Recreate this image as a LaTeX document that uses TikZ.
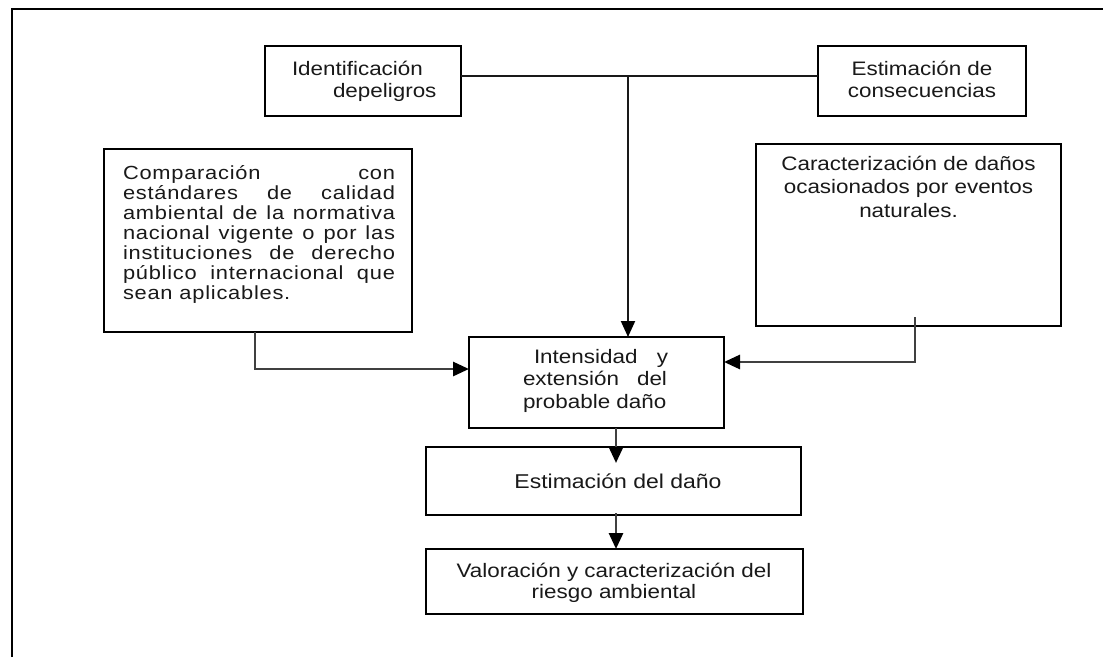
\documentclass[tikz,border=0pt]{standalone}
\usepackage{fontspec}
\setmainfont{Liberation Sans}[FakeStretch=1.15]
\newfontfamily\spacedfont{Liberation Sans}[FakeStretch=1.15,LetterSpace=4]
\usetikzlibrary{arrows.meta}
\newcommand\setfz[2]{\fontsize{#1}{#2}\selectfont}
\begin{document}
\begin{tikzpicture}[x=1pt,y=-1pt,
  box/.style={draw=black, line width=2pt, inner sep=0pt, outer sep=0pt},
  txt/.style={inner sep=0pt, outer sep=0pt, text=black!90},
  conn/.style={draw=black!75, line width=2.8pt},
  thinconn/.style={draw=black!90, line width=2pt},
  arr/.style={-{Triangle[length=16pt,width=14pt,color=black]}}
]
\useasboundingbox (0,0) rectangle (1103,657);
\fill[white] (0,0) rectangle (1103,657);
% outer frame (only top and left visible)
\draw[line width=2pt] (11.5,657) -- (11.5,8.5) -- (1103,8.5);

% boxes
\node[box, minimum width=196pt, minimum height=70pt] (ident) at (363,81) {};
\node[box, minimum width=208pt, minimum height=70pt] (estcons) at (922,81) {};
\node[box, minimum width=308pt, minimum height=183pt] (comp) at (258,240.5) {};
\node[box, minimum width=305pt, minimum height=182pt] (carac) at (908.5,235) {};
\node[box, minimum width=255pt, minimum height=91pt] (inten) at (596.5,382.5) {};
\node[box, minimum width=375pt, minimum height=68pt] (estdano) at (613.5,481) {};
\node[box, minimum width=377pt, minimum height=65pt] (valor) at (614.5,581.5) {};

% texts (base anchor = baseline of the last line)
\node[txt, anchor=base west, align=left, font=\setfz{19.5}{22}] (identt) at (292,97)
  {Identificación\\\hspace*{41pt}depeligros};
\node[txt, anchor=base, align=center, font=\setfz{19.5}{22}] (estconst) at (922,97)
  {Estimación de\\consecuencias};
\node[txt, anchor=base west, align=left, font={\spacedfont\setfz{19}{20}}] (compt) at (123,299)
  {\makebox[272pt][s]{Comparación con}\\
   \makebox[272pt][s]{estándares de calidad}\\
   \makebox[272pt][s]{ambiental de la normativa}\\
   \makebox[272pt][s]{nacional vigente o por las}\\
   \makebox[272pt][s]{instituciones de derecho}\\
   \makebox[272pt][s]{público internacional que}\\
   sean aplicables.};
\node[txt, anchor=base, align=center, font=\setfz{19.5}{23.5}] (caract) at (908.5,217)
  {Caracterización de daños\\ocasionados por eventos\\naturales.};
\node[txt, anchor=base west, align=left, font=\setfz{19.5}{22.5}] (intent) at (523,408)
  {\hspace*{11pt}\makebox[134pt][s]{Intensidad y}\\\makebox[144pt][s]{extensión del}\\probable daño};
\node[txt, anchor=base, font=\setfz{20}{22}] (estdanot) at (618,488) {Estimación del daño};
\node[txt, anchor=base, align=center, font=\setfz{19.5}{21.5}] (valort) at (614,598.5)
  {Valoración y caracterización del\\riesgo ambiental};

% connectors
\coordinate (j) at (628,76);
\draw[thinconn] (ident.east |- j) -- (estcons.west |- j);
\draw[thinconn, arr] (j) -- (j |- inten.north);

\coordinate (c1) at (255,369);
\draw[conn, arr] (c1 |- comp.south) -- (c1) -- (inten.west |- c1);

\coordinate (c2top) at (915,317);
\coordinate (c2) at (915,362);
\draw[conn, arr] (c2top) -- (c2) -- (inten.east |- c2);

\coordinate (c3) at (616,463);
\draw[conn, arr] (c3 |- inten.south) -- (c3);

\coordinate (c4) at (616,513);
\draw[conn, arr] (c4) -- (c4 |- valor.north);
\end{tikzpicture}
\end{document}
